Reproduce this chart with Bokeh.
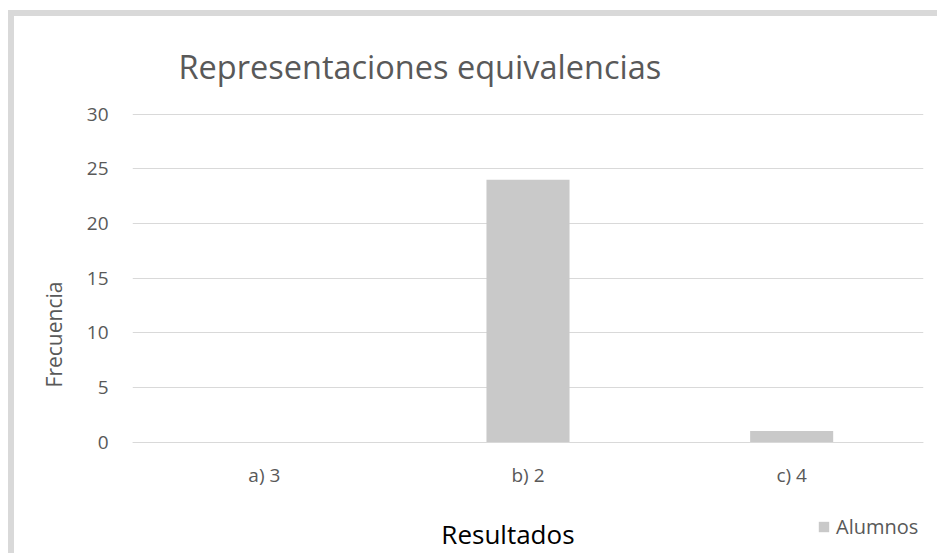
from bokeh.plotting import figure
from bokeh.models import FactorRange, Range1d, Legend, LegendItem, ColumnDataSource, Label, FixedTicker
from bokeh.embed import file_html
from bokeh.resources import INLINE

categories = ["a) 3", "b) 2", "c) 4"]
alumnos = [0, 24, 1]
y_ticks = [0, 5, 10, 15, 20, 25, 30]

FONT = "Open Sans"
GRID = "#d9d9d9"
TXT = "#595959"
BAR = "#c9c9c9"

src = ColumnDataSource(dict(cat=categories, val=alumnos))

p = figure(x_range=FactorRange(*categories), y_range=Range1d(-10.38, 30.05),
           width=929, height=543, output_backend="svg", toolbar_location=None,
           min_border_left=118, min_border_right=20, min_border_top=97,
           min_border_bottom=4, margin=(10, 0, 0, 8))
p.styles = {"border-top": "6px solid #d9d9d9", "border-left": "6px solid #d9d9d9"}
p.outline_line_color = None
p.x_range.range_padding = 0

r = p.vbar(x="cat", top="val", width=0.315, source=src, fill_color=BAR, line_color=None)

p.title.text = "Representaciones equivalencias"
p.title.text_font = FONT
p.title.text_font_size = "32.5px"
p.title.text_font_style = "normal"
p.title.text_color = TXT
p.title.align = "left"
p.title.offset = 46
p.title.standoff = 50

p.yaxis.ticker = FixedTicker(ticks=y_ticks)
p.yaxis.axis_line_color = None
p.yaxis.major_tick_line_color = None
p.yaxis.minor_tick_line_color = None
p.yaxis.major_tick_out = 0
p.yaxis.major_tick_in = 0
p.yaxis.minor_tick_out = 0
p.yaxis.major_label_standoff = 24
p.yaxis.major_label_text_font = FONT
p.yaxis.major_label_text_font_size = "19px"
p.yaxis.major_label_text_color = TXT
p.yaxis.axis_label = "Frecuencia"
p.yaxis.axis_label_text_font = FONT
p.yaxis.axis_label_text_font_size = "21px"
p.yaxis.axis_label_text_font_style = "normal"
p.yaxis.axis_label_text_color = TXT
p.yaxis.axis_label_standoff = 16

p.xaxis.fixed_location = 0
p.xaxis.axis_line_color = GRID
p.xaxis.major_tick_line_color = None
p.xaxis.minor_tick_line_color = None
p.xaxis.major_tick_out = 0
p.xaxis.major_tick_in = 0
p.xaxis.minor_tick_out = 0
p.xaxis.major_label_standoff = 20
p.xaxis.major_label_text_font = FONT
p.xaxis.major_label_text_font_size = "19px"
p.xaxis.major_label_text_color = TXT

p.xgrid.grid_line_color = None
p.ygrid.grid_line_color = GRID
p.ygrid.grid_line_width = 1

x_title = Label(x=1.424, y=-8.45, text="Resultados", text_align="center",
                text_baseline="middle", text_font=FONT, text_font_size="26px",
                text_color="#000000")
p.add_layout(x_title)

legend = Legend(items=[LegendItem(label="Alumnos", renderers=[r])],
                location=(685, 15), orientation="horizontal",
                glyph_width=13, glyph_height=13, label_standoff=6,
                padding=0, margin=0, spacing=0, border_line_color=None,
                background_fill_alpha=0, label_text_font=FONT,
                label_text_font_size="20px", label_text_color=TXT)
p.add_layout(legend, "center")

open("out.html", "w").write(file_html(p, INLINE))
